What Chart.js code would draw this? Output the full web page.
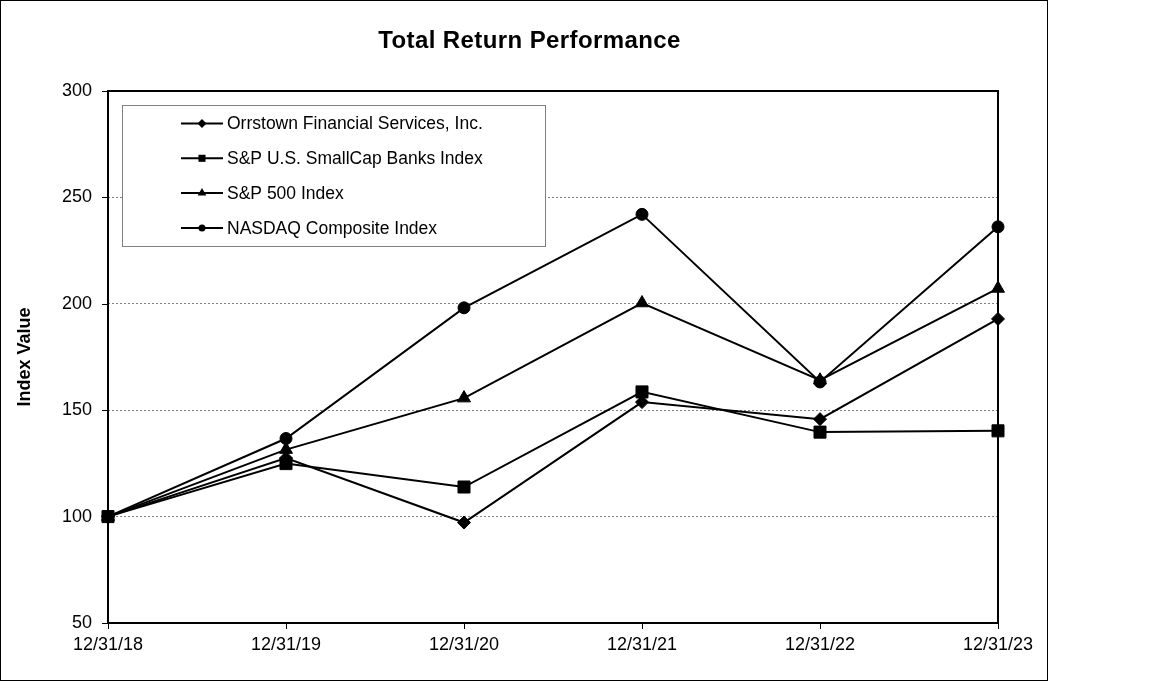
<!DOCTYPE html>
<html>
<head>
<meta charset="utf-8">
<script src="https://cdn.jsdelivr.net/npm/chart.js@4.4.1/dist/chart.umd.min.js"></script>
<style>
  html, body { margin: 0; padding: 0; background: #fff; }
  #wrap { position: relative; width: 1152px; height: 681px; }
  #frame { position: absolute; left: 0; top: 0; width: 1046px; height: 679px; border: 1px solid #000; }
  #chart { position: absolute; left: 0; top: 0; }
</style>
</head>
<body>
<div id="wrap">
  <div id="frame"></div>
  <canvas id="chart" width="1152" height="681"></canvas>
</div>
<script>
const FONT = "'Liberation Sans', Arial, sans-serif";

// Data
const years = ['12/31/18', '12/31/19', '12/31/20', '12/31/21', '12/31/22', '12/31/23'];
const seriesNames = ['Orrstown Financial Services, Inc.', 'S&P U.S. SmallCap Banks Index', 'S&P 500 Index', 'NASDAQ Composite Index'];
const orrstown = [100, 127.5, 97.2, 153.8, 145.8, 192.9];
const smallCapBanks = [100, 124.9, 113.9, 158.6, 139.7, 140.3];
const sp500 = [100, 131.49, 155.68, 200.37, 164.08, 207.21];
const nasdaq = [100, 136.69, 198.10, 242.03, 163.28, 236.17];
const yTicks = [50, 100, 150, 200, 250, 300];

const styles = [
  { pointStyle: 'rectRot', pointRadius: 6.5, legendRadius: 4.5 },
  { pointStyle: 'rect', pointRadius: 8.5, legendRadius: 5 },
  { pointStyle: 'triangle', pointRadius: 7.5, legendRadius: 5 },
  { pointStyle: 'circle', pointRadius: 6, legendRadius: 3.5 }
];
const values = [orrstown, smallCapBanks, sp500, nasdaq];

const datasets = seriesNames.map((name, i) => ({
  label: name,
  data: values[i],
  borderColor: '#000',
  backgroundColor: '#000',
  borderWidth: 2,
  pointStyle: styles[i].pointStyle,
  pointRadius: styles[i].pointRadius,
  pointHoverRadius: styles[i].pointRadius,
  pointBorderWidth: 1,
  pointBackgroundColor: '#000',
  pointBorderColor: '#000',
  tension: 0
}));

// Frame, tick marks, title and boxed legend
const decorPlugin = {
  id: 'decor',
  beforeDatasetsDraw(chart) {
    const { ctx, chartArea: a, scales } = chart;
    ctx.save();
    ctx.strokeStyle = '#000';
    ctx.lineWidth = 2;
    ctx.strokeRect(a.left, a.top, a.right - a.left, a.bottom - a.top);
    ctx.lineWidth = 1;
    yTicks.forEach(v => {
      const y = Math.round(scales.y.getPixelForValue(v)) + 0.5;
      ctx.beginPath(); ctx.moveTo(a.left - 6, y); ctx.lineTo(a.left, y); ctx.stroke();
    });
    years.forEach((lab, i) => {
      const x = Math.round(scales.x.getPixelForValue(i)) + 0.5;
      ctx.beginPath(); ctx.moveTo(x, a.bottom); ctx.lineTo(x, a.bottom + 6); ctx.stroke();
    });
    ctx.restore();
  },
  afterDatasetsDraw(chart) {
    const { ctx } = chart;
    ctx.save();
    // title
    ctx.fillStyle = '#000';
    ctx.font = 'bold 24px ' + FONT;
    ctx.letterSpacing = '0.4px';
    ctx.textAlign = 'center';
    ctx.textBaseline = 'middle';
    ctx.fillText('Total Return Performance', 529.5, 41);
    ctx.letterSpacing = '0px';

    // legend box
    const bx = 122, by = 105, bw = 423, bh = 141;
    ctx.fillStyle = '#fff';
    ctx.fillRect(bx, by, bw, bh);
    ctx.strokeStyle = '#808080';
    ctx.lineWidth = 1;
    ctx.strokeRect(bx + 0.5, by + 0.5, bw, bh);

    ctx.font = '17.5px ' + FONT;
    ctx.textAlign = 'left';
    chart.data.datasets.forEach((ds, i) => {
      const y = 123.5 + i * 34.8;
      ctx.strokeStyle = '#000';
      ctx.lineWidth = 2;
      ctx.beginPath(); ctx.moveTo(181, y); ctx.lineTo(223, y); ctx.stroke();
      ctx.fillStyle = '#000';
      Chart.helpers.drawPoint(ctx, {
        pointStyle: ds.pointStyle, radius: styles[i].legendRadius, rotation: 0, borderWidth: 0
      }, 202, y);
      ctx.fillStyle = '#000';
      ctx.fillText(ds.label, 227, y + 1);
    });
    ctx.restore();
  }
};

new Chart(document.getElementById('chart'), {
  type: 'line',
  data: { labels: years, datasets: datasets },
  plugins: [decorPlugin],
  options: {
    responsive: false,
    animation: false,
    layout: { padding: { top: 91, left: 0, right: 154, bottom: 0 } },
    plugins: {
      legend: { display: false },
      title: { display: false },
      tooltip: { enabled: false }
    },
    scales: {
      x: {
        type: 'category',
        offset: false,
        afterFit: s => { s.height = 58; },
        grid: { display: false, drawTicks: false },
        border: { display: false },
        ticks: { color: '#000', font: { family: FONT, size: 18 }, padding: 11, maxRotation: 0, autoSkip: false }
      },
      y: {
        min: 50,
        max: 300,
        afterFit: s => { s.width = 108; },
        afterBuildTicks: s => { s.ticks = yTicks.map(v => ({ value: v })); },
        grid: {
          drawTicks: false,
          lineWidth: 1,
          color: ctx => (ctx.tick && (ctx.tick.value === 50 || ctx.tick.value === 300)) ? 'rgba(0,0,0,0)' : '#808080'
        },
        border: { display: false, dash: [2, 2] },
        ticks: { color: '#000', font: { family: FONT, size: 18 }, padding: 16 },
        title: {
          display: true,
          text: 'Index Value',
          color: '#000',
          font: { family: FONT, size: 18, weight: 'bold' },
          padding: { top: 14, bottom: 0 }
        }
      }
    }
  }
});
</script>
</body>
</html>
